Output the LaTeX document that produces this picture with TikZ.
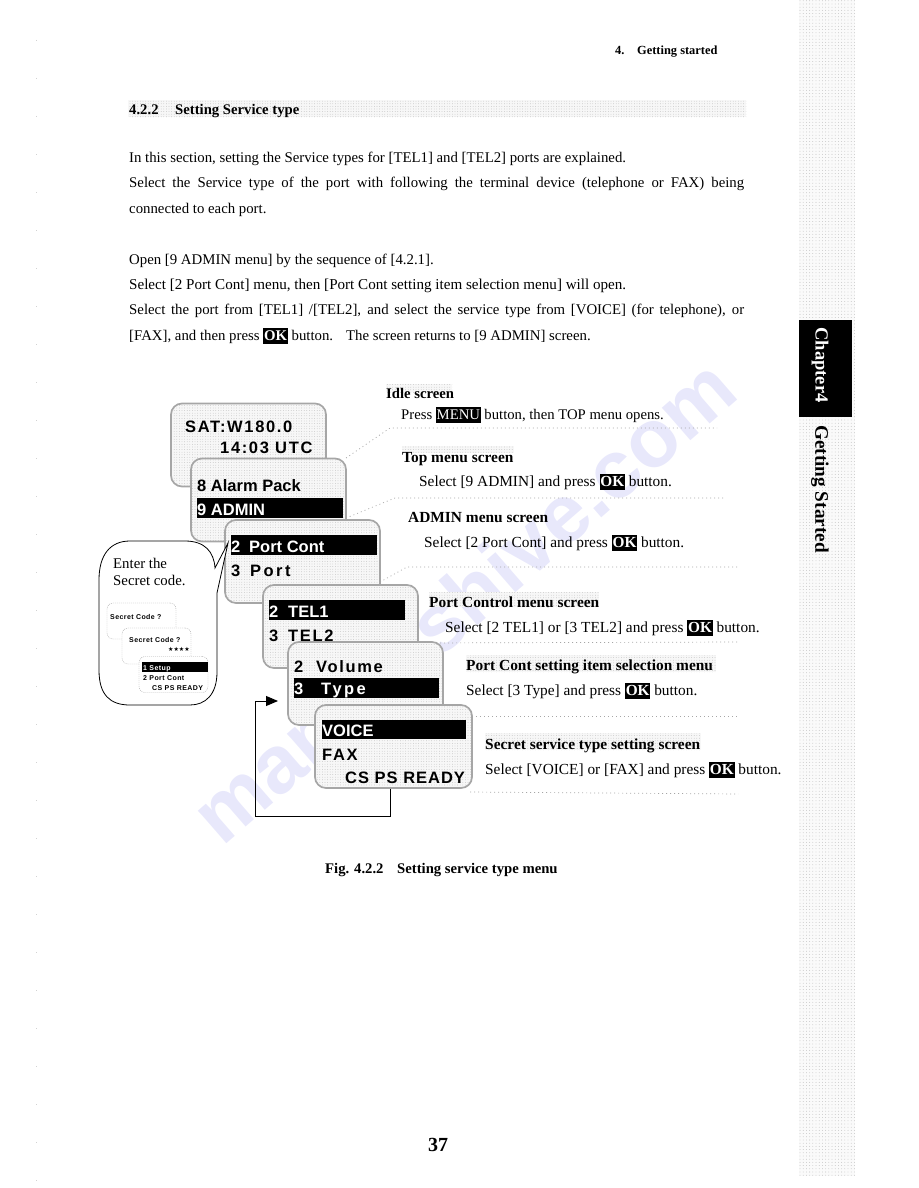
\documentclass[tikz,border=0pt]{standalone}
\usepackage{fontspec}
\usetikzlibrary{patterns.meta,arrows.meta}
\setmainfont{Liberation Serif}
\newfontfamily\lcdn[LetterSpace=0]{Liberation Sans}
\newfontfamily\lcdw[LetterSpace=6]{Liberation Sans}
\newfontfamily\lcdm[LetterSpace=10]{Liberation Sans}
\newfontfamily\lcdx[LetterSpace=15]{Liberation Sans}
\newfontfamily\starfont{DejaVu Sans}
\definecolor{wm}{HTML}{E8E8FB}
\newcommand{\btn}[1]{{\setlength{\fboxsep}{0.8pt}\colorbox{black}{\rule[-3.5pt]{0pt}{14.5pt}\textcolor{white}{\bfseries #1}}}}
\newcommand{\just}[2]{\makebox[#1pt][s]{#2}}
\tikzset{
  speck/.style={preaction={fill=gray!6},pattern={Dots[radius=0.4pt,distance=2.6pt]},pattern color=gray!55},
  sidespeck/.style={preaction={fill=gray!4},pattern={Dots[radius=0.4pt,distance=3.2pt]},pattern color=gray!60},
  lcdscreen/.style={speck,draw=gray!70,line width=1.7pt,rounded corners=11pt,minimum width=155pt,minimum height=83pt,inner sep=0pt},
  minilcd/.style={draw=gray!70,dash pattern=on 1pt off 1pt,fill=white,rounded corners=6pt,minimum width=69pt,minimum height=36pt,inner sep=0pt},
  bar/.style={fill=black,inner sep=0pt,anchor=north west},
  txt/.style={anchor=base west,inner sep=0pt,font=\fontsize{14.8}{17}\selectfont},
  txtb/.style={anchor=base west,inner sep=0pt,font=\fontsize{15.35}{17}\selectfont},
  hd/.style={anchor=base west,inner sep=0pt,font=\fontsize{14.7}{17}\selectfont\bfseries},
  hdb/.style={anchor=base west,inner sep=0pt,font=\fontsize{15.4}{17}\selectfont\bfseries},
  lcd/.style={anchor=base west,inner sep=0pt,font=\fontsize{16.5}{18}\selectfont\lcdn\bfseries},
  lcdw6/.style={anchor=base west,inner sep=0pt,font=\fontsize{16.5}{18}\selectfont\lcdw\bfseries},
  lcdm10/.style={anchor=base west,inner sep=0pt,font=\fontsize{16.5}{18}\selectfont\lcdm\bfseries},
  lcdx15/.style={anchor=base west,inner sep=0pt,font=\fontsize{16.5}{18}\selectfont\lcdx\bfseries},
  tiny/.style={anchor=base west,inner sep=0pt,font=\fontsize{7}{8}\selectfont\lcdw\bfseries},
  leader/.style={draw=gray!70,line width=0.7pt,dash pattern=on 1pt off 3pt},
  band/.style={speck,draw=none,inner sep=0pt,anchor=north west}
}
\begin{document}
\begin{tikzpicture}[x=1pt,y=-1pt]
\useasboundingbox (0,0) rectangle (918,1188);
% watermark
\node[text=wm,rotate=41,inner sep=0pt,font=\fontsize{82}{86}\selectfont\lcdn\bfseries] (wmark) at (463,600) {manualshive.com};
% margin specks
\draw[gray!35,dash pattern=on 1pt off 37pt] (36,40) -- (36,1188);
% sidebar
\node[sidespeck,draw=none,inner sep=0pt,anchor=north west,minimum width=56pt,minimum height=1176pt] (side) at (799,0) {};
\node[fill=black,inner sep=0pt,anchor=north west,minimum width=53pt,minimum height=97pt] (chapbox) at (799,320) {};
\node[text=white,rotate=-90,inner sep=0pt,font=\fontsize{18.5}{20}\selectfont\bfseries] (chap) at (820,365) {Chapter4};
\node[rotate=-90,inner sep=0pt,font=\fontsize{19.2}{21}\selectfont\bfseries] (gs) at (820,489) {Getting Started};
% header
\node[hd,font=\fontsize{12.4}{14}\selectfont\bfseries] (h1) at (615,55) {4.};
\node[hd,font=\fontsize{12.4}{14}\selectfont\bfseries] (h2) at (637,55) {Getting started};
% heading
\node[band,minimum width=618pt,minimum height=17pt] (hband) at (128,100) {};
\node[hd] (t0a) at (129,115) {4.2.2};
\node[hd] (t0b) at (175,115) {Setting Service type};
% paragraphs
\node[txt] (p1) at (129,162) {In this section, setting the Service types for [TEL1] and [TEL2] ports are explained.};
\node[txt] (p2) at (129,187) {\just{615}{Select the Service type of the port with following the terminal device (telephone or FAX) being}};
\node[txt] (p3) at (129,213) {connected to each port.};
\node[txt] (p4) at (129,264) {Open [9 ADMIN menu] by the sequence of [4.2.1].};
\node[txt,font=\fontsize{15.1}{17}\selectfont] (p5) at (129,289) {Select [2 Port Cont] menu, then [Port Cont setting item selection menu] will open.};
\node[txt] (p6) at (129,314) {\just{615}{Select the port from [TEL1] /[TEL2], and select the service type from [VOICE] (for telephone), or}};
\node[txt] (p7) at (129,340) {[FAX], and then press \btn{OK} button.};
\node[txt] (p8) at (346,340) {The screen returns to [9 ADMIN] screen.};
% label shading
\node[band,minimum width=66pt,minimum height=8pt] (b1) at (386,384) {};
\node[band,minimum width=112pt,minimum height=7pt] (b2) at (402,446) {};
\node[band,minimum width=170pt,minimum height=15pt] (b4) at (429,592) {};
\node[band,minimum width=250pt,minimum height=17pt] (b5) at (466,655) {};
\node[band,minimum width=216pt,minimum height=17pt] (b6) at (485,733) {};
% leaders
\coordinate (la) at (346,458); \coordinate (la1) at (390,428); \coordinate (la2) at (717,428);
\coordinate (lb) at (346,518); \coordinate (lb1) at (395,498); \coordinate (lb2) at (725,498);
\coordinate (lc) at (380,582); \coordinate (lc1) at (407,567); \coordinate (lc2) at (737,567);
\coordinate (ld) at (420,643); \coordinate (ld2) at (738,642);
\coordinate (le) at (472,716); \coordinate (le2) at (738,716);
\coordinate (lf) at (470,792); \coordinate (lf2) at (738,794);
\draw[leader] (la) -- (la1) -- (la2);
\draw[leader] (lb) -- (lb1) -- (lb2);
\draw[leader] (lc) -- (lc1) -- (lc2);
\draw[leader] (ld) -- (ld2);
\draw[leader] (le) -- (le2);
\draw[leader] (lf) -- (lf2);
% right labels
\node[hd] (l1) at (386,398) {Idle screen};
\node[txt,font=\fontsize{14.7}{17}\selectfont] (l1b) at (401,419) {Press \btn{\mdseries MENU} button, then TOP menu opens.};
\node[hdb] (l2) at (402,462) {Top menu screen};
\node[txtb] (l2b) at (419,486) {Select [9 ADMIN] and press \btn{OK} button.};
\node[hdb] (l3) at (408,522) {ADMIN menu screen};
\node[txtb] (l3b) at (424,547) {Select [2 Port Cont] and press \btn{OK} button.};
\node[hdb] (l4) at (429,607) {Port Control menu screen};
\node[txtb] (l4b) at (445,632) {Select [2 TEL1] or [3 TEL2] and press \btn{OK} button.};
\node[hdb] (l5) at (466,670) {Port Cont setting item selection menu};
\node[txtb] (l5b) at (466,695) {Select [3 Type] and press \btn{OK} button.};
\node[hdb] (l6) at (485,749) {Secret service type setting screen};
\node[txtb] (l6b) at (485,774) {Select [VOICE] or [FAX] and press \btn{OK} button.};
% screens
\node[lcdscreen] (idle) at (248.5,445) {};
\node[lcdm10] (s1) at (185,432) {SAT:W180.0};
\node[lcdm10] (s2) at (220,453) {14:03 UTC};
\node[lcdscreen] (top) at (268.5,500) {};
\node[lcd] (s3) at (197,491) {8 Alarm Pack};
\node[bar,minimum width=146pt,minimum height=20pt] (bar1) at (197,498) {};
\node[lcd,text=white] (s4) at (197,515) {9 ADMIN};
\node[lcdscreen] (admin) at (302.5,561.5) {};
% callout
\draw[fill=white,line width=0.8pt] (99,580) .. controls (99,555) and (110,541) .. (130,541) -- (185,541) .. controls (205,541) and (214,552) .. (215,568) -- (228,543) -- (217,593) -- (217,672) .. controls (217,695) and (205,705) .. (190,705) -- (130,705) .. controls (110,705) and (99,695) .. (99,670) -- cycle;
\node[txt] (c1) at (113,568) {Enter the};
\node[txt] (c2) at (113,585) {Secret code.};
\node[minilcd] (m1) at (141.5,621) {};
\node[tiny] (m1t) at (110,619) {Secret Code ?};
\node[minilcd] (m2) at (156.5,646) {};
\node[tiny] (m2t) at (129,642) {Secret Code ?};
\node[anchor=base west,inner sep=0pt,font=\fontsize{6}{7}\selectfont\starfont] (m2s) at (168,651) {★★★★};
\node[minilcd] (m3) at (173.5,674.5) {};
\node[bar,minimum width=66pt,minimum height=10pt] (mbar) at (142,662) {};
\node[tiny,text=white] (m3a) at (143,670) {1 Setup};
\node[tiny] (m3b) at (143,680) {2 Port Cont};
\node[tiny] (m3c) at (152,690) {CS PS READY};
% admin contents
\node[bar,minimum width=146pt,minimum height=20pt] (bar2) at (231,535) {};
\node[lcd,text=white] (s5a) at (231,552) {2};
\node[lcd,text=white] (s5b) at (249,552) {Port Cont};
\node[lcd] (s6a) at (231,576) {3};
\node[lcdx15] (s6b) at (250,576) {Port};
\node[lcdscreen] (port) at (340.5,626.5) {};
\node[bar,minimum width=136pt,minimum height=20pt] (bar3) at (269,600) {};
\node[lcd,text=white] (s7a) at (269,617) {2};
\node[lcd,text=white] (s7b) at (288,617) {TEL1};
\node[lcd] (s8a) at (269,641) {3};
\node[lcdm10] (s8b) at (288,641) {TEL2};
\node[lcdscreen] (vol) at (365.5,683.5) {};
\node[lcd] (s9a) at (294,672) {2};
\node[lcdm10] (s9b) at (316,672) {Volume};
\node[bar,minimum width=145pt,minimum height=20pt] (bar4) at (294,678) {};
\node[lcd,text=white] (s10a) at (294,694) {3};
\node[lcdx15,text=white] (s10b) at (321,694) {Type};
\node[lcdscreen,minimum width=157pt] (voice) at (393.5,746.5) {};
\node[bar,minimum width=144pt,minimum height=19pt] (bar5) at (322,720) {};
\node[lcd,text=white] (s11) at (322,736) {VOICE};
\node[lcdm10] (s12) at (322,760) {FAX};
\node[lcdw6] (s13) at (345,783) {CS PS READY};
% feedback connector
\coordinate (fa) at (390,816); \coordinate (fb) at (255,816); \coordinate (fc) at (255,701); \coordinate (fd) at (278,701);
\draw[line width=0.9pt,-{Triangle[length=12pt,width=10pt]}] (voice.south -| fa) -- (fa) -- (fb) -- (fc) -- (fd);
% caption and page number
\node[hd] (f1) at (325,873) {Fig. 4.2.2};
\node[hd] (f2) at (397,873) {Setting service type menu};
\node[anchor=base,inner sep=0pt,font=\fontsize{20}{22}\selectfont\bfseries] (pg) at (438,1151) {37};
\end{tikzpicture}
\end{document}
